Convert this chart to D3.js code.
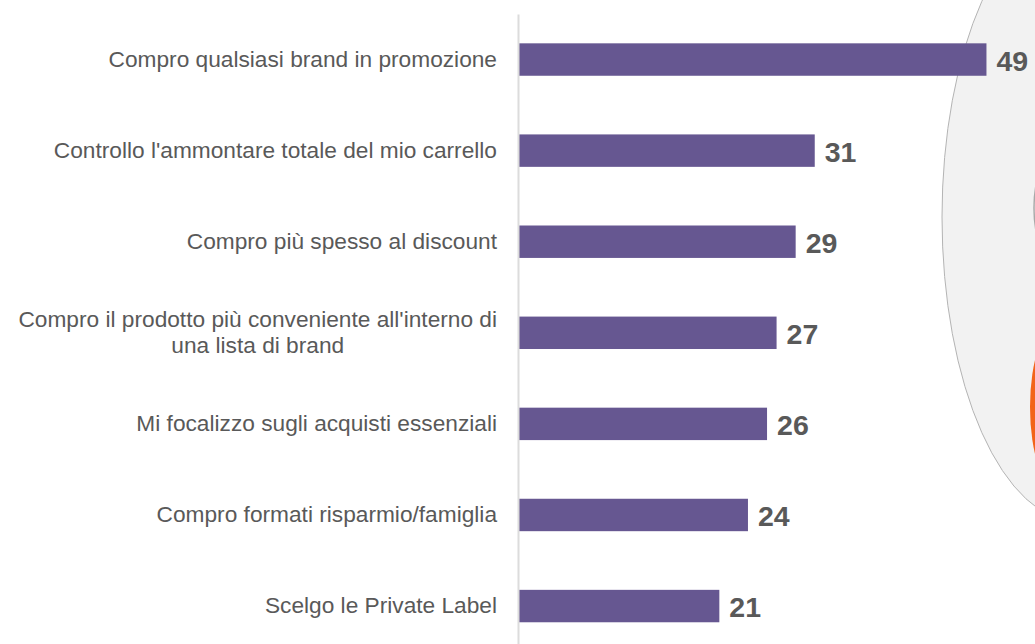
<!DOCTYPE html>
<html>
<head>
<meta charset="utf-8">
<script src="https://cdn.jsdelivr.net/npm/d3@7"></script>
<style>
  html, body { margin: 0; padding: 0; background: #ffffff; overflow: hidden; }
  svg { display: block; font-family: Arial, "Liberation Sans", sans-serif; }
</style>
</head>
<body>
<svg id="chart" width="1035" height="644"></svg>
<script>
// ---- data ----
const categories = [
  "Compro qualsiasi brand in promozione",
  "Controllo l'ammontare totale del mio carrello",
  "Compro più spesso al discount",
  "Compro il prodotto più conveniente all'interno di una lista di brand",
  "Mi focalizzo sugli acquisti essenziali",
  "Compro formati risparmio/famiglia",
  "Scelgo le Private Label"
];
const values = [49, 31, 29, 27, 26, 24, 21];

// ---- layout ----
const axisX = 518;
const svg = d3.select("#chart");

// decorative background shapes (right side)
const deco = svg.append("g");
deco.append("ellipse")
  .attr("cx", 1078).attr("cy", 217).attr("rx", 136).attr("ry", 305)
  .attr("fill", "#f2f2f2").attr("stroke", "#b4b4b4").attr("stroke-width", 1);
deco.append("ellipse")
  .attr("cx", 1100).attr("cy", 208).attr("rx", 66).attr("ry", 90)
  .attr("fill", "none").attr("stroke", "#a8a8a8").attr("stroke-width", 1.5);
deco.append("ellipse")
  .attr("cx", 1060).attr("cy", 407).attr("rx", 30).attr("ry", 85)
  .attr("fill", "#f26419");

const x = d3.scaleLinear().domain([0, 50]).range([axisX + 1, 996]);
const y = d3.scaleBand().domain(categories).range([14, 651.6])
  .paddingInner(0.644).paddingOuter(0.322);

// bars
svg.append("g").selectAll("rect")
  .data(values)
  .join("rect")
  .attr("x", x(0))
  .attr("y", (d, i) => y(categories[i]))
  .attr("width", d => x(d) - x(0))
  .attr("height", y.bandwidth())
  .attr("fill", "#665791");

// value labels
svg.append("g").selectAll("text")
  .data(values)
  .join("text")
  .attr("x", d => x(d) + 10)
  .attr("y", (d, i) => y(categories[i]) + y.bandwidth() / 2 + 11)
  .attr("font-size", 28.5)
  .attr("font-weight", "bold")
  .attr("fill", "#595959")
  .text(d => d);

// axis with category labels
const axis = svg.append("g")
  .attr("transform", `translate(${axisX},0)`)
  .call(d3.axisLeft(y).tickSize(0).tickPadding(21));
axis.select(".domain").attr("stroke", "#dcdcdc").attr("stroke-width", 2);
axis.selectAll(".tick text")
  .attr("font-size", 22.7)
  .attr("fill", "#595959")
  .attr("font-family", "Arial, 'Liberation Sans', sans-serif")
  .each(function(d) {
    const t = d3.select(this);
    const maxW = 488;
    const words = d.split(" ");
    t.text(null).attr("dy", null);
    const lines = [];
    let cur = [];
    const probe = t.append("tspan");
    words.forEach(w => {
      const test = cur.concat([w]).join(" ");
      probe.text(test);
      if (probe.node().getComputedTextLength() > maxW && cur.length) {
        lines.push(cur.join(" "));
        cur = [w];
      } else {
        cur.push(w);
      }
    });
    lines.push(cur.join(" "));
    let widest = 0;
    lines.forEach(l => {
      probe.text(l);
      widest = Math.max(widest, probe.node().getComputedTextLength());
    });
    probe.remove();
    const lh = 26;
    const baseX = -21;
    if (lines.length > 1) t.attr("text-anchor", "middle");
    const cx = lines.length > 1 ? baseX - widest / 2 : baseX;
    lines.forEach((l, i) => {
      t.append("tspan")
        .attr("x", cx)
        .attr("y", 7.2 + (i - (lines.length - 1) / 2) * lh)
        .text(l);
    });
  });
</script>
</body>
</html>
